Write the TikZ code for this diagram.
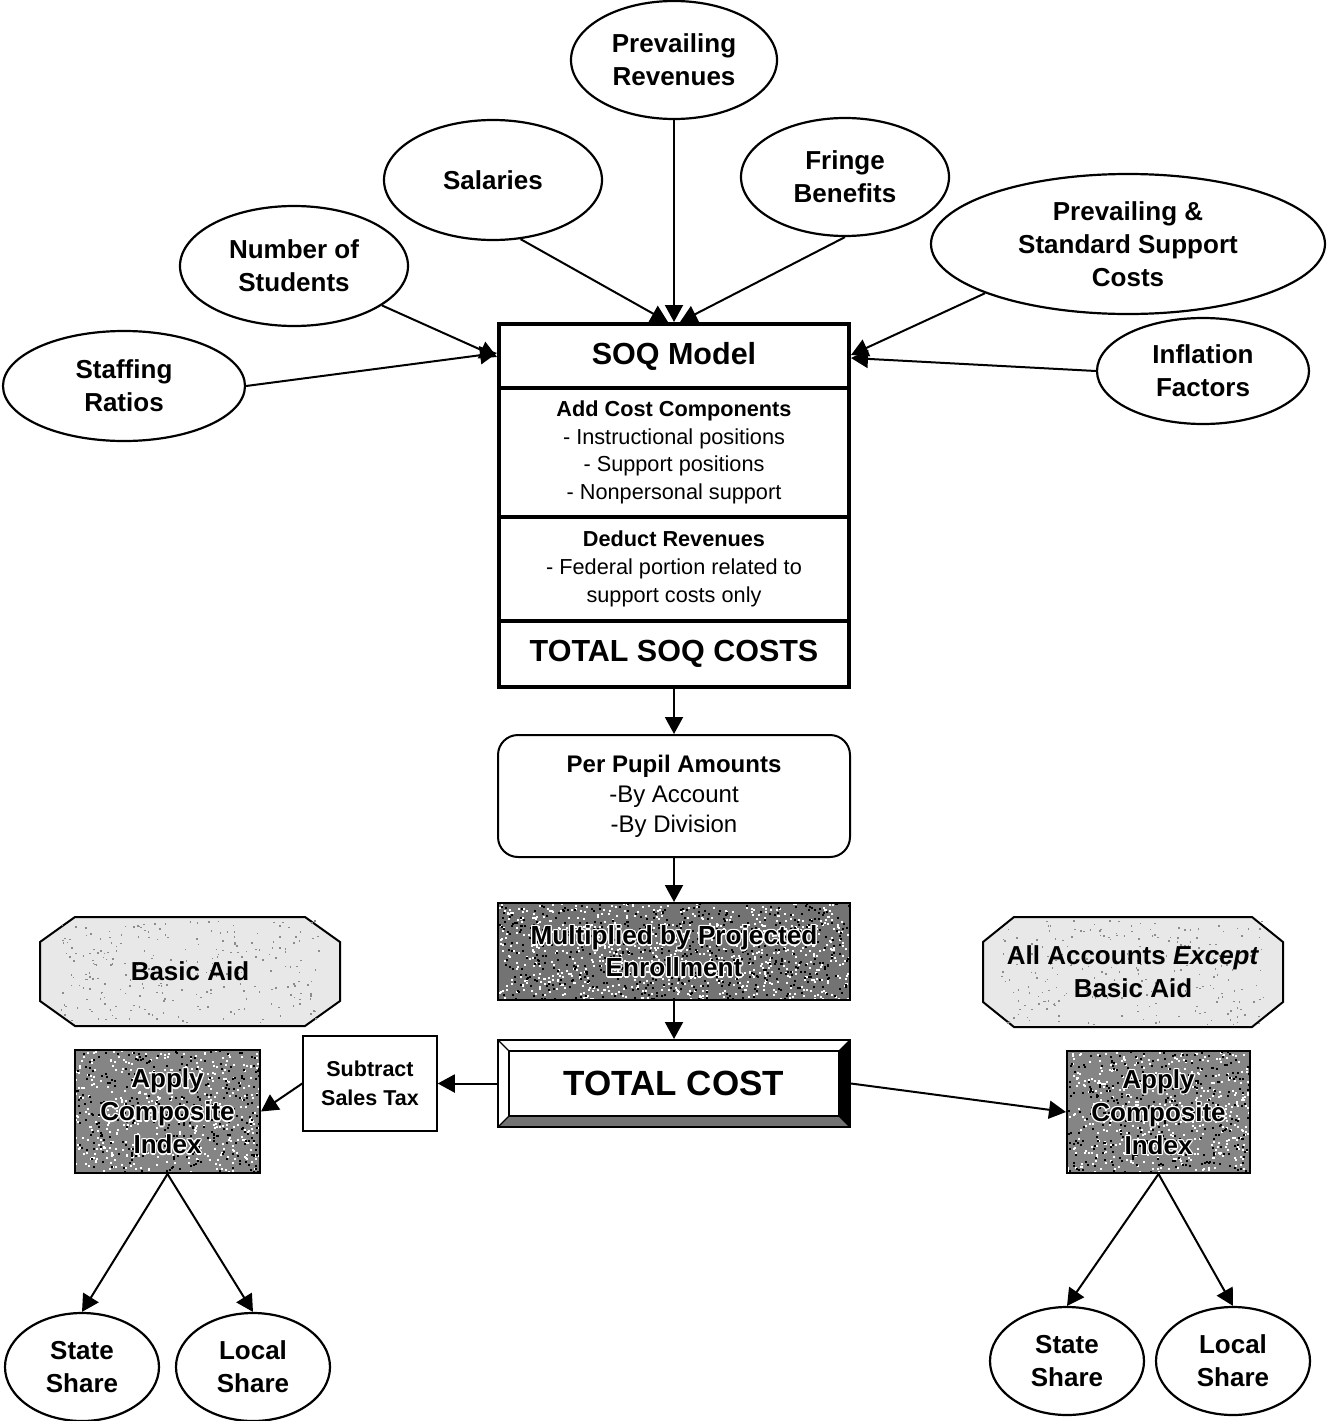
\documentclass[tikz,border=0pt]{standalone}
\usepackage{fontspec}
\setmainfont{Liberation Sans}
\usetikzlibrary{arrows.meta,shapes.geometric}
\newcommand\myspeckle[7]{% x1 y1 x2 y2 count colour size
  \begin{scope}
  \clip (#1,#2) rectangle (#3,#4);
  \foreach \k in {1,...,#5}{%
    \pgfmathsetmacro\sx{#1+rnd*(#3-#1)}%
    \pgfmathsetmacro\sy{#2+rnd*(#4-#2)}%
    \fill[#6] (\sx,\sy) rectangle ++(#7,#7);
  }
  \end{scope}}
\newcommand\hl[1]{\makebox[0pt][l]{\color{white}\foreach \dx/\dy in {1.3/0,-1.3/0,0/1.3,0/-1.3,0.9/0.9,-0.9/0.9,0.9/-0.9,-0.9/-0.9}{\makebox[0pt][l]{\hspace*{\dx pt}\raisebox{\dy pt}{#1}}}}#1}
\begin{document}
\begin{tikzpicture}[x=1pt,y=-1pt,
  ell/.style={ellipse,draw,line width=2.2pt,inner sep=0pt,align=center,font=\fontsize{26}{33}\selectfont\bfseries},
  arr/.style={line width=2pt,-{Triangle[length=17pt,width=18pt]}},
  soq/.style={draw,line width=4pt,minimum width=350pt,inner sep=0pt,align=center},
  plain/.style={draw,line width=2pt,inner sep=0pt,align=center},
  shade/.style={draw,line width=2pt,inner sep=0pt,align=center},
  octa/.style={draw,line width=2pt,fill=black!9},
]
\pgfmathsetseed{4711}
\useasboundingbox (0,0) rectangle (1327,1421);
% ellipses
\node[ell,minimum width=206pt,minimum height=118pt] (prev) at (674,60) {Prevailing\\Revenues};
\node[ell,minimum width=218pt,minimum height=120pt] (sal) at (493,180) {Salaries};
\node[ell,minimum width=208pt,minimum height=118pt] (fringe) at (845,177) {Fringe\\Benefits};
\node[ell,minimum width=228pt,minimum height=120pt] (nstud) at (294,266) {Number of\\Students};
\node[ell,minimum width=394pt,minimum height=140pt] (pss) at (1128,244) {Prevailing \&\\Standard Support\\Costs};
\node[ell,minimum width=242pt,minimum height=110pt] (staff) at (124,386) {Staffing\\Ratios};
\node[ell,minimum width=212pt,minimum height=106pt] (infl) at (1203,371) {Inflation\\Factors};
% SOQ box
\node[soq,minimum height=64pt,font=\fontsize{30.5}{36}\selectfont\bfseries] (soqhead) at (674,356) {SOQ Model};
\node[soq,minimum height=129pt,font=\fontsize{21.7}{27.7}\selectfont] (addcost) at (674,452.5) {\textbf{Add Cost Components}\\- Instructional positions\\- Support positions\\- Nonpersonal support};
\node[soq,minimum height=104pt,font=\fontsize{21.7}{28}\selectfont] (deduct) at (674,569) {\textbf{Deduct Revenues}\\- Federal portion related to\\support costs only};
\node[soq,minimum height=66pt,font=\fontsize{30.5}{36}\selectfont\bfseries] (totsoq) at (674,654) {TOTAL SOQ COSTS};
% per pupil
\node[plain,rounded corners=20pt,minimum width=352pt,minimum height=122pt,font=\fontsize{24}{30}\selectfont] (pupil) at (674,796) {\textbf{Per Pupil Amounts}\\-By Account\\-By Division};
% textured backgrounds
\fill[black!55] (498,903) rectangle (850,1000);
\myspeckle{498}{903}{850}{1000}{800}{white}{2}
\myspeckle{498}{903}{850}{1000}{600}{black}{2}
\fill[black!48] (75,1050) rectangle (260,1173);
\myspeckle{75}{1050}{260}{1173}{450}{white}{2}
\myspeckle{75}{1050}{260}{1173}{350}{black}{2}
\fill[black!48] (1067,1051) rectangle (1250,1173);
\myspeckle{1067}{1051}{1250}{1173}{450}{white}{2}
\myspeckle{1067}{1051}{1250}{1173}{350}{black}{2}
% multiplied
\node[shade,minimum width=352pt,minimum height=97pt,font=\fontsize{26.2}{32}\selectfont\bfseries] (mult) at (674,951.5) {\hl{Multiplied by Projected}\\\hl{Enrollment}};
% total cost
\node[plain,minimum width=352pt,minimum height=87pt,font=\fontsize{35}{40}\selectfont\bfseries] (total) at (674,1083.5) {TOTAL COST};
\fill[black] (850,1040) -- (850,1127) -- (839,1116) -- (839,1051) -- cycle;
\fill[black!55] (498,1127) -- (850,1127) -- (839,1116) -- (509,1116) -- cycle;
\draw[line width=1.5pt] (509,1051) rectangle (839,1116);
\draw[line width=1.2pt] (498,1040) -- (509,1051) (850,1040) -- (839,1051) (498,1127) -- (509,1116) (850,1127) -- (839,1116);
\draw[line width=2pt] (498,1040) rectangle (850,1127);
% subtract
\node[plain,line width=1.5pt,minimum width=134pt,minimum height=95pt,font=\fontsize{21.5}{29}\selectfont\bfseries] (sub) at (370,1083.5) {Subtract\\Sales Tax};
% apply boxes
\node[shade,minimum width=185pt,minimum height=123pt,font=\fontsize{26}{33}\selectfont\bfseries] (applyL) at (167.5,1111.5) {\hl{Apply}\\\hl{Composite}\\\hl{Index}};
\node[shade,minimum width=183pt,minimum height=122pt,font=\fontsize{26}{33}\selectfont\bfseries] (applyR) at (1158.5,1112) {\hl{Apply}\\\hl{Composite}\\\hl{Index}};
% octagons
\draw[octa] (40,942) -- (75,917) -- (305,917) -- (340,942) -- (340,1001) -- (305,1026) -- (75,1026) -- (40,1001) -- cycle;
\myspeckle{60}{920}{320}{1023}{250}{black!45}{1.5}
\node[font=\fontsize{26}{33}\selectfont\bfseries] (basic) at (190,971.5) {Basic Aid};
\draw[octa] (983,942) -- (1014,917) -- (1252,917) -- (1283,942) -- (1283,1002) -- (1252,1027) -- (1014,1027) -- (983,1002) -- cycle;
\myspeckle{1000}{920}{1265}{1024}{250}{black!45}{1.5}
\node[align=center,font=\fontsize{26}{33}\selectfont\bfseries] (allacc) at (1133,971.5) {All Accounts \textit{Except}\\Basic Aid};
% shares
\node[ell,minimum width=154pt,minimum height=108pt] (stateL) at (82,1367) {State\\Share};
\node[ell,minimum width=154pt,minimum height=108pt] (localL) at (253,1367) {Local\\Share};
\node[ell,minimum width=154pt,minimum height=108pt] (stateR) at (1067,1361) {State\\Share};
\node[ell,minimum width=154pt,minimum height=108pt] (localR) at (1233,1361) {Local\\Share};
% connectors
\draw[arr] (staff.east) -- ([yshift=3pt]soqhead.west);
\draw[arr] (nstud) -- ([yshift=-1pt]soqhead.west);
\draw[arr] (sal.-65) -- ([xshift=-6pt]soqhead.north);
\draw[arr] (prev.south) -- (soqhead.north);
\draw[arr] (fringe.south) -- ([xshift=6pt]soqhead.north);
\draw[arr] (pss.199) -- ([yshift=1pt]soqhead.east);
\draw[arr] (infl.west) -- ([yshift=-2pt]soqhead.east);
\draw[arr] (totsoq.south) -- (pupil.north);
\draw[arr] (pupil.south) -- (mult.north);
\draw[arr] (mult.south) -- (total.north);
\draw[arr] (total.west) -- (sub.east);
\draw[arr] (sub.west) -- (applyL.east);
\draw[arr] (total.east) -- (applyR.west);
\draw[arr] (applyL.south) -- (stateL.north);
\draw[arr] (applyL.south) -- (localL.north);
\draw[arr] (applyR.south) -- (stateR.north);
\draw[arr] (applyR.south) -- (localR.north);
\end{tikzpicture}
\end{document}
